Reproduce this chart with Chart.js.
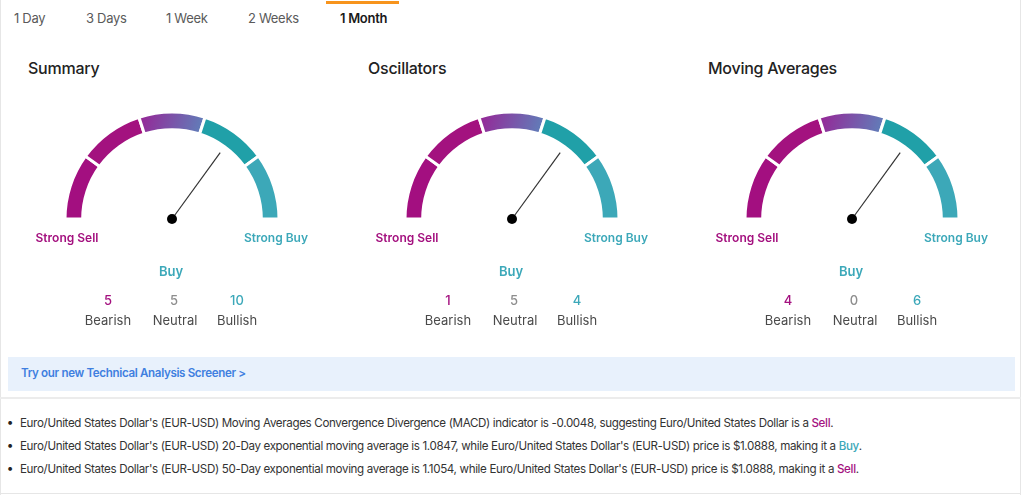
<!DOCTYPE html>
<html>
<head>
<meta charset="utf-8">
<script src="https://cdn.jsdelivr.net/npm/chart.js@4.4.0/dist/chart.umd.min.js"></script>
<style>
  body { margin: 0; width: 1024px; height: 495px; background: #fff; font-family: Inter, "Open Sans", sans-serif; overflow: hidden; }
  #page { position: relative; width: 1024px; height: 495px; }
  .abs { position: absolute; white-space: nowrap; }
  .c { transform: translate(-50%, -50%); }
  .l { transform: translate(0, -50%); }
  .tab { font-size: 13px; color: #5a5a5a; letter-spacing: -0.3px; }
  .tab.on { color: #1a1a1a; font-weight: 600; }
  .title { font-size: 16px; font-weight: 500; color: #222; letter-spacing: -0.25px; }
  .end { font-size: 12px; font-weight: 600; }
  .sell { color: #a4117f; }
  .buy { color: #3ca8b9; }
  .gray { color: #8d8d8d; }
  .cnt { font-size: 13px; font-weight: 500; }
  .lbl { font-size: 13px; color: #4a4a4a; }
  .bullet { font-size: 11.6px; color: #333; letter-spacing: -0.35px; }
  canvas { position: absolute; }
</style>
</head>
<body>
<div id="page">
  <div class="abs" style="left:0;top:0;width:1px;height:495px;background:#e6e6e6"></div>
  <div class="abs" style="left:1020px;top:0;width:1px;height:495px;background:#e6e6e6"></div>
  <div class="abs" style="left:0;top:493px;width:1021px;height:1px;background:#e6e6e6"></div>
  <div class="abs" style="left:0;top:397px;width:1021px;height:2px;background:#ececec"></div>
  <div class="abs" style="left:326px;top:1px;width:73px;height:3px;background:#f7941d"></div>
  <div class="abs" style="left:8px;top:357px;width:1007px;height:34px;background:#e8f1fc"></div>
  <div class="abs l" style="left:21px;top:373px;font-size:11.6px;font-weight:600;color:#3f7fe0;letter-spacing:-0.35px">Try our new Technical Analysis Screener &gt;</div>
</div>
<script>
// tabs
const tabLabels = ['1 Day', '3 Days', '1 Week', '2 Weeks', '1 Month'];
const tabX = [14, 86, 166, 248, 340];
const activeTab = 4;

// gauge segments (equal fifths of the half circle)
const segmentLabels = ['Strong Sell', 'Sell', 'Neutral', 'Buy', 'Strong Buy'];
const segmentSizes = [1, 1, 1, 1, 1];
const segmentColors = ['#a30f80', '#a3127f', null, '#20a0a8', '#3ca8b8'];

// the three gauges
const gaugeTitles = ['Summary', 'Oscillators', 'Moving Averages'];
const gaugeRatings = ['Buy', 'Buy', 'Buy'];
const bearishCounts = [5, 1, 4];
const neutralCounts = [5, 5, 0];
const bullishCounts = [10, 4, 6];

// notes under the gauges
const notes = [
  ["Euro/United States Dollar's (EUR-USD) Moving Averages Convergence Divergence (MACD) indicator is -0.0048, suggesting Euro/United States Dollar is a ", 'Sell'],
  ["Euro/United States Dollar's (EUR-USD) 20-Day exponential moving average is 1.0847, while Euro/United States Dollar's (EUR-USD) price is $1.0888, making it a ", 'Buy'],
  ["Euro/United States Dollar's (EUR-USD) 50-Day exponential moving average is 1.1054, while Euro/United States Dollar's (EUR-USD) price is $1.0888, making it a ", 'Sell']
];

const page = document.getElementById('page');
function addText(cls, x, y, text, extra) {
  const d = document.createElement('div');
  d.className = 'abs ' + cls;
  d.style.left = x + 'px';
  d.style.top = y + 'px';
  if (extra) d.style.cssText += extra;
  d.textContent = text;
  page.appendChild(d);
  return d;
}

tabLabels.forEach((t, i) => {
  addText('l tab' + (i === activeTab ? ' on' : ''), tabX[i], 18, t);
});

const needlePlugin = {
  id: 'needle',
  afterDatasetsDraw(chart) {
    const meta = chart.getDatasetMeta(0);
    const idx = segmentLabels.indexOf(chart.options.plugins.needle.rating);
    const arc = meta.data[idx];
    if (!arc) return;
    const a = (arc.startAngle + arc.endAngle) / 2;
    const len = 82;
    const ctx = chart.ctx;
    ctx.save();
    ctx.strokeStyle = '#333';
    ctx.lineWidth = 1.2;
    ctx.beginPath();
    ctx.moveTo(arc.x, arc.y);
    ctx.lineTo(arc.x + Math.cos(a) * len, arc.y + Math.sin(a) * len);
    ctx.stroke();
    ctx.fillStyle = '#000';
    ctx.beginPath();
    ctx.arc(arc.x, arc.y, 5, 0, Math.PI * 2);
    ctx.fill();
    ctx.restore();
  }
};

gaugeTitles.forEach((title, g) => {
  const x0 = g * 340;
  addText('l title', x0 + 28, 68, title);

  const cv = document.createElement('canvas');
  cv.width = 240; cv.height = 129;
  cv.style.left = (x0 + 52) + 'px';
  cv.style.top = '101px';
  cv.style.width = '240px'; cv.style.height = '129px';
  page.appendChild(cv);

  new Chart(cv, {
    type: 'doughnut',
    data: {
      labels: segmentLabels,
      datasets: [{
        data: segmentSizes,
        backgroundColor: (c) => {
          if (segmentColors[c.dataIndex]) return segmentColors[c.dataIndex];
          const area = c.chart.chartArea;
          if (!area) return '#7a5aa8';
          const cx = (area.left + area.right) / 2;
          const grad = c.chart.ctx.createLinearGradient(cx - 36, 12, cx + 36, 34);
          grad.addColorStop(0, '#9a2094');
          grad.addColorStop(1, '#5a88bd');
          return grad;
        },
        borderColor: '#fff',
        borderWidth: 3
      }]
    },
    options: {
      responsive: false,
      animation: false,
      rotation: -90,
      circumference: 180,
      radius: 107,
      cutout: '83.5%',
      layout: { padding: 0 },
      plugins: {
        legend: { display: false },
        tooltip: { enabled: false },
        needle: { rating: gaugeRatings[g] }
      }
    },
    plugins: [needlePlugin]
  });

  addText('c end sell', x0 + 67, 237, 'Strong Sell');
  addText('c end buy', x0 + 276, 237, 'Strong Buy');
  addText('c end buy', x0 + 171, 271, gaugeRatings[g], 'font-size:13px');
  addText('c cnt sell', x0 + 108, 300, String(bearishCounts[g]));
  addText('c cnt gray', x0 + 174, 300, String(neutralCounts[g]));
  addText('c cnt buy', x0 + 237, 300, String(bullishCounts[g]));
  addText('c lbl', x0 + 108, 320, 'Bearish');
  addText('c lbl', x0 + 175, 320, 'Neutral');
  addText('c lbl', x0 + 237, 320, 'Bullish');
});

const noteY = [423, 446, 469];
notes.forEach((n, i) => {
  addText('c', 10, noteY[i] - 2, '•', 'font-size:12px;color:#222');
  const d = addText('l bullet', 20, noteY[i], n[0]);
  const s = document.createElement('span');
  s.className = n[1] === 'Buy' ? 'buy' : 'sell';
  s.style.fontWeight = '500';
  s.textContent = n[1];
  d.appendChild(s);
  d.appendChild(document.createTextNode('.'));
});
</script>
</body>
</html>
